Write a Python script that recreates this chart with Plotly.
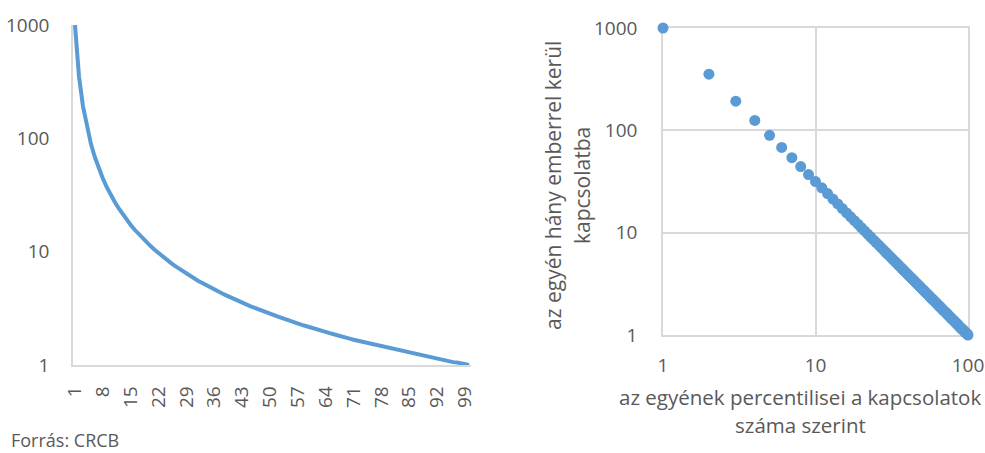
import plotly.graph_objects as go

# percentile rank (1..100)
percentiles = list(range(1, 101))
connections = [
    1000, 353.6, 192.5, 125, 89.4, 68.0, 54.0, 44.2, 37.0, 31.6,
    27.4, 24.1, 21.3, 19.1, 17.2, 15.6, 14.3, 13.1, 12.1, 11.2,
    10.4, 9.69, 9.07, 8.50, 8.00, 7.54, 7.13, 6.75, 6.40, 6.09,
    5.79, 5.52, 5.28, 5.04, 4.83, 4.63, 4.44, 4.27, 4.11, 3.95,
    3.81, 3.67, 3.55, 3.43, 3.31, 3.21, 3.10, 3.01, 2.92, 2.83,
    2.75, 2.67, 2.59, 2.52, 2.45, 2.39, 2.32, 2.26, 2.21, 2.15,
    2.10, 2.05, 2.00, 1.95, 1.91, 1.87, 1.82, 1.78, 1.74, 1.71,
    1.67, 1.64, 1.60, 1.57, 1.54, 1.51, 1.48, 1.45, 1.42, 1.40,
    1.37, 1.35, 1.32, 1.30, 1.28, 1.25, 1.23, 1.21, 1.19, 1.17,
    1.15, 1.13, 1.12, 1.10, 1.08, 1.06, 1.05, 1.03, 1.02, 1.00,
]
left_tickvals = [1, 8, 15, 22, 29, 36, 43, 50, 57, 64, 71, 78, 85, 92, 99]
left_ticktext = [str(v) for v in left_tickvals]
y_tickvals = [1, 10, 100, 1000]
y_ticktext = ["1", "10", "100", "1000"]
right_x_tickvals = [1, 10, 100]
right_x_ticktext = ["1", "10", "100"]
xtitle_lines = ["az egyének percentilisei a kapcsolatok", "száma szerint"]
ytitle_lines = ["az egyén hány emberrel kerül", "kapcsolatba"]
source_text = "Forrás: CRCB"

BLUE = "#5B9BD5"
GRAY = "#595959"
LINE = "#D9D9D9"
FONT = "Open Sans"
W, H = 985, 453


def px_x(p):
    """page pixel x -> paper fraction"""
    return p / W


def px_y(p):
    """page pixel y (from top) -> paper fraction"""
    return 1 - p / H


fig = go.Figure()

fig.add_trace(go.Scatter(
    x=percentiles, y=connections, mode="lines",
    line=dict(color=BLUE, width=4), xaxis="x", yaxis="y",
    showlegend=False, hoverinfo="x+y",
))
fig.add_trace(go.Scatter(
    x=percentiles, y=connections, mode="markers",
    marker=dict(color=BLUE, size=11, line=dict(width=0)), xaxis="x2", yaxis="y2",
    showlegend=False, cliponaxis=False,
))

tickfont = dict(family=FONT, size=19, color=GRAY)

common = dict(zeroline=False, showline=True, linecolor=LINE, linewidth=1.5,
              ticks="", tickfont=tickfont, automargin=False, layer="below traces")

fig.update_layout(
    width=W, height=H,
    margin=dict(l=0, r=0, t=0, b=0, autoexpand=False),
    paper_bgcolor="white", plot_bgcolor="white",
    font=dict(family=FONT, color=GRAY),
    xaxis=dict(
        domain=[px_x(73), px_x(471)], range=[0.5, 100.5],
        tickvals=left_tickvals, ticktext=left_ticktext, tickangle=-90,
        showgrid=False, ticklabelstandoff=12, anchor="y", **common,
    ),
    yaxis=dict(
        domain=[px_y(365), px_y(25)], type="log", range=[0, 3],
        tickvals=y_tickvals, ticktext=y_ticktext,
        showgrid=False, ticklabelstandoff=18, anchor="x", **common,
    ),
    xaxis2=dict(
        domain=[px_x(663), px_x(968)], type="log", range=[0, 2],
        tickvals=right_x_tickvals, ticktext=right_x_ticktext,
        showgrid=True, gridcolor=LINE, gridwidth=1.5, mirror=True,
        ticklabelstandoff=12, anchor="y2", **common,
    ),
    yaxis2=dict(
        domain=[px_y(335), px_y(28)], type="log", range=[0, 3],
        tickvals=y_tickvals, ticktext=y_ticktext,
        showgrid=True, gridcolor=LINE, gridwidth=1.5, mirror=True,
        ticklabelstandoff=20, anchor="x2", **common,
    ),
)

annots = []
for i, t in enumerate(xtitle_lines):
    annots.append(dict(
        text=t, x=px_x(800), y=px_y(397 + 28 * i), xref="paper", yref="paper",
        xanchor="center", yanchor="middle", showarrow=False,
        font=dict(family=FONT, size=20.5, color=GRAY),
    ))
for i, t in enumerate(ytitle_lines):
    annots.append(dict(
        text=t, x=px_x(553 + 29 * i), y=px_y(186), xref="paper", yref="paper",
        xanchor="center", yanchor="middle", showarrow=False, textangle=-90,
        font=dict(family=FONT, size=21, color=GRAY),
    ))
annots.append(dict(
    text=source_text, x=px_x(9), y=px_y(440), xref="paper", yref="paper",
    xanchor="left", yanchor="middle", showarrow=False,
    font=dict(family=FONT, size=18, color=GRAY),
))
fig.update_layout(annotations=annots)

fig.write_html(
    "out.html",
    config={"displayModeBar": False},
    post_script="document.body.style.margin='0px';document.body.style.overflow='hidden';",
)
